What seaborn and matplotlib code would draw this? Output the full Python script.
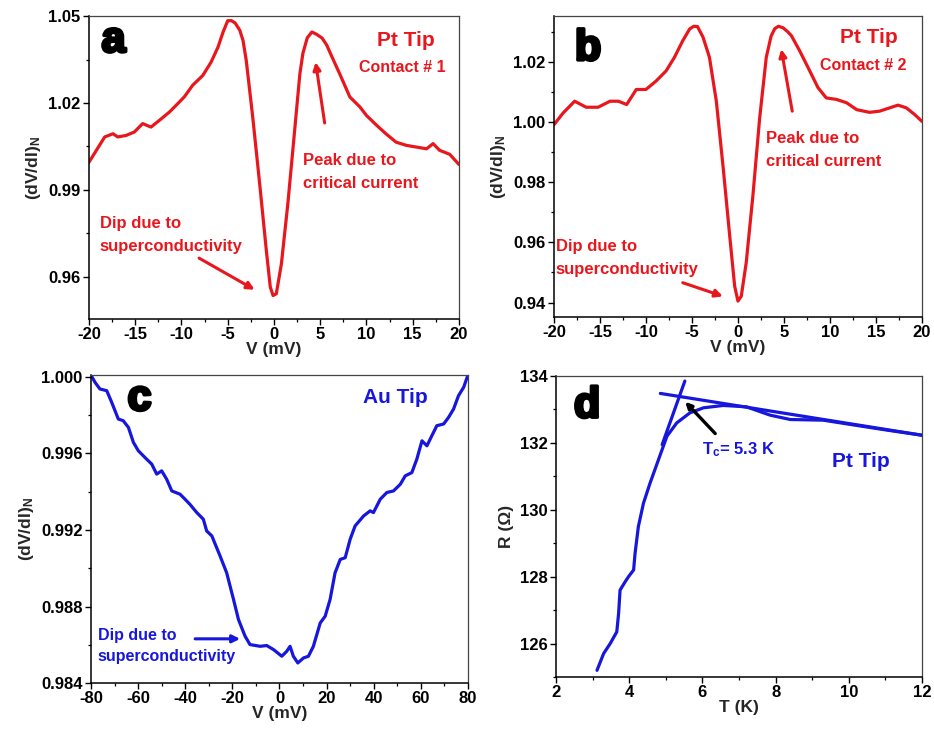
import numpy as np
import pandas as pd
import matplotlib
matplotlib.use("Agg")
import matplotlib.pyplot as plt
import matplotlib.patheffects as pe
from matplotlib.ticker import MultipleLocator, FormatStrFormatter
import seaborn as sns

# ---------------- data ----------------
# panel a : Pt tip, contact #1
a_v = [-20, -19.2, -18.3, -17.4, -16.9, -16.0, -15.1, -14.2, -13.3, -12.4, -11.3, -10.4, -9.7, -8.8,
       -7.7, -6.8, -6.05, -5.5, -5.0, -4.6, -4.2, -3.7, -3.35, -3.0, -2.3, -1.55, -0.83, -0.4, -0.1,
       0.25, 0.8, 1.5, 2.2, 2.8, 3.13, 3.6, 4.1, 4.6, 5.2, 5.7, 6.2, 7.1, 8.2, 9.3, 10.0, 11.1, 12.1,
       13.2, 14.3, 15.4, 16.5, 17.2, 17.9, 19.0, 20.0]
a_g = [0.9996, 1.0037, 1.0083, 1.0094, 1.0083, 1.0088, 1.0100, 1.0129, 1.0117, 1.0140, 1.0169, 1.0198,
       1.0221, 1.0261, 1.0295, 1.0341, 1.0393, 1.0445, 1.0484, 1.0484, 1.0476, 1.0451, 1.0416, 1.0347,
       1.0152, 0.9922, 0.9692, 0.9565, 0.9536, 0.9542, 0.9645, 0.9853, 1.0094, 1.0301, 1.0372, 1.0425,
       1.0445, 1.0437, 1.0424, 1.0400, 1.0364, 1.0301, 1.0221, 1.0186, 1.0157, 1.0123, 1.0094, 1.0065,
       1.0054, 1.0048, 1.0042, 1.0060, 1.0037, 1.0023, 0.9988]

# panel b : Pt tip, contact #2
b_v = [-20, -19.0, -17.75, -16.5, -15.2, -13.9, -13.0, -12.1, -11.05, -10.0, -8.9, -7.8, -6.9, -6.0,
       -5.25, -4.8, -4.4, -3.8, -3.1, -2.35, -1.6, -0.9, -0.36, 0.0, 0.36, 0.9, 1.63, 2.36, 3.08, 3.6,
       4.0, 4.4, 4.9, 5.4, 5.8, 6.7, 7.8, 8.7, 9.6, 10.7, 11.8, 12.9, 14.3, 15.4, 16.5, 17.4, 18.3,
       19.2, 20.0]
b_g = [0.9991, 1.0030, 1.0069, 1.0049, 1.0049, 1.0069, 1.0069, 1.0058, 1.0108, 1.0108, 1.0136, 1.0170,
       1.0215, 1.0270, 1.0309, 1.0318, 1.0317, 1.0282, 1.0215, 1.0069, 0.9846, 0.9623, 0.9455, 0.9405,
       0.9421, 0.9533, 0.9757, 1.0013, 1.0215, 1.0285, 1.0310, 1.0318, 1.0313, 1.0300, 1.0287, 1.0237,
       1.0170, 1.0114, 1.0080, 1.0075, 1.0064, 1.0041, 1.0032, 1.0036, 1.0047, 1.0056, 1.0047, 1.0025,
       1.0002]

# panel c : Au tip
c_v = [-80, -78.3, -76.2, -73.3, -71.2, -68.4, -66.3, -64.1, -62.0, -59.9, -57.1, -54.2, -52.1, -50.0,
       -47.9, -45.7, -42.2, -40.1, -38.0, -35.1, -32.3, -30.9, -28.7, -25.2, -22.4, -19.5, -17.4, -14.6,
       -12.5, -8.2, -5.4, -2.55, 1.0, 3.1, 4.5, 5.9, 7.8, 10.2, 12.3, 14.4, 17.3, 19.4, 21.5, 23.6, 25.8,
       27.9, 30.0, 32.1, 35.7, 38.5, 39.9, 42.8, 45.6, 48.4, 51.3, 53.4, 56.2, 58.3, 60.5, 62.6, 64.7,
       66.8, 69.7, 71.8, 73.9, 76.0, 78.2, 80.0]
c_g = [1.00010, 0.99972, 0.99937, 0.99928, 0.99867, 0.99780, 0.99771, 0.99736, 0.99658, 0.99614,
       0.99579, 0.99544, 0.99492, 0.99509, 0.99466, 0.99404, 0.99387, 0.99361, 0.99334, 0.99291,
       0.99256, 0.99195, 0.99169, 0.99064, 0.98976, 0.98837, 0.98732, 0.98645, 0.98601, 0.98592,
       0.98596, 0.98575, 0.98540, 0.98566, 0.98592, 0.98540, 0.98505, 0.98531, 0.98540, 0.98592,
       0.98714, 0.98749, 0.98837, 0.98976, 0.99046, 0.99055, 0.99151, 0.99221, 0.99273, 0.99300,
       0.99291, 0.99361, 0.99396, 0.99404, 0.99439, 0.99483, 0.99500, 0.99570, 0.99666, 0.99640,
       0.99693, 0.99745, 0.99754, 0.99789, 0.99832, 0.99902, 0.99946, 1.00010]

# panel d : R(T), Pt tip
d_t = [3.12, 3.3, 3.48, 3.66, 3.71, 3.75, 3.89, 3.98, 4.12, 4.16, 4.25, 4.39, 4.57, 4.8, 5.03, 5.3,
       5.66, 6.03, 6.57, 7.2, 7.85, 8.4, 9.3, 10.0, 11.0, 12.0]
d_r = [125.2, 125.7, 126.0, 126.35, 126.9, 127.6, 127.85, 128.0, 128.2, 128.7, 129.5, 130.2, 130.8,
       131.5, 132.2, 132.6, 132.9, 133.05, 133.12, 133.08, 132.83, 132.7, 132.68, 132.56, 132.39, 132.23]
# tangent lines used to define Tc
tan_hi_t = [4.85, 12.0]
tan_hi_r = [133.48, 132.23]
tan_lo_t = [4.9, 5.52]
tan_lo_r = [131.95, 133.85]

RED = "#e8171d"
BLUE = "#1616dc"

# ---------------- style ----------------
sns.set_theme(style="ticks")
plt.rcParams["font.family"] = ["Liberation Sans", "DejaVu Sans"]
plt.rcParams.update({
    "font.weight": "bold",
    "axes.labelweight": "bold",
    "axes.unicode_minus": False,
    "mathtext.fontset": "custom",
    "mathtext.rm": "Liberation Sans:bold",
    "mathtext.it": "Liberation Sans:bold",
    "mathtext.bf": "Liberation Sans:bold",
    "mathtext.default": "bf",
    "xtick.direction": "out",
    "ytick.direction": "out",
    "xtick.major.size": 4, "ytick.major.size": 4,
    "xtick.minor.size": 2.5, "ytick.minor.size": 2.5,
    "xtick.major.width": 1.0, "ytick.major.width": 1.0,
    "xtick.minor.width": 0.9, "ytick.minor.width": 0.9,
    "xtick.color": "black", "ytick.color": "black",
    "axes.edgecolor": "black",
})

fig = plt.figure(figsize=(9.34, 7.32), dpi=100)
fig.patch.set_facecolor("white")
ax_a = fig.add_axes([0.0953, 0.5642, 0.3961, 0.4139])
ax_b = fig.add_axes([0.5931, 0.5669, 0.3940, 0.4112])
ax_c = fig.add_axes([0.0974, 0.0669, 0.4036, 0.4208])
ax_d = fig.add_axes([0.5953, 0.0751, 0.3919, 0.4112])

LW = 2.3
line_kw = dict(lw=LW, sort=False, estimator=None)
sns.lineplot(data=pd.DataFrame({"V": a_v, "G": a_g}), x="V", y="G", ax=ax_a, color=RED, **line_kw)
sns.lineplot(data=pd.DataFrame({"V": b_v, "G": b_g}), x="V", y="G", ax=ax_b, color=RED, **line_kw)
sns.lineplot(data=pd.DataFrame({"V": c_v, "G": c_g}), x="V", y="G", ax=ax_c, color=BLUE, **line_kw)
sns.lineplot(data=pd.DataFrame({"T": d_t, "R": d_r}), x="T", y="R", ax=ax_d, color=BLUE, **line_kw)
sns.lineplot(x=tan_hi_t, y=tan_hi_r, ax=ax_d, color=BLUE, **line_kw)
sns.lineplot(x=tan_lo_t, y=tan_lo_r, ax=ax_d, color=BLUE, **line_kw)

TICK_FS = 12
LABEL_FS = 12.5


def style_axes(ax, xlim, ylim, xmaj, xmin, ymaj, ymin, yfmt, xlabel, ylabel):
    ax.set_xlim(*xlim)
    ax.set_ylim(*ylim)
    ax.xaxis.set_major_locator(MultipleLocator(xmaj))
    ax.xaxis.set_minor_locator(MultipleLocator(xmin))
    ax.yaxis.set_major_locator(MultipleLocator(ymaj))
    ax.yaxis.set_minor_locator(MultipleLocator(ymin))
    ax.yaxis.set_major_formatter(FormatStrFormatter(yfmt))
    ax.tick_params(labelsize=TICK_FS, pad=2)
    for lab in ax.get_xticklabels() + ax.get_yticklabels():
        lab.set_fontweight("bold")
    ax.set_xlabel(xlabel, fontsize=LABEL_FS, fontweight="bold", labelpad=0)
    ax.set_ylabel(ylabel, fontsize=LABEL_FS, fontweight="bold", labelpad=4)
    for s in ("left", "bottom"):
        ax.spines[s].set_linewidth(1.1)
        ax.spines[s].set_color("black")
    for s in ("top", "right"):
        ax.spines[s].set_visible(True)
        ax.spines[s].set_linewidth(0.9)
        ax.spines[s].set_color("#444444")
    ax.set_facecolor("white")


ylab = "(dV/dI)$_{N}$"
style_axes(ax_a, (-20, 20), (0.9455, 1.05), 5, 2.5, 0.03, 0.015, "%.2f", "V (mV)", ylab)
style_axes(ax_b, (-20, 20), (0.9352, 1.0352), 5, 2.5, 0.02, 0.01, "%.2f", "V (mV)", ylab)
style_axes(ax_c, (-80, 80), (0.984, 1.0001), 20, 10, 0.004, 0.002, "%.3f", "V (mV)", ylab)
style_axes(ax_d, (2, 12), (125, 134), 2, 1, 2, 1, "%d", "T (K)", "R (\u03a9)")

# panel letters
letter_fx = [pe.Stroke(linewidth=2.4, foreground="black", joinstyle="round"), pe.Normal()]
for ax, txt, fx, fy in [(ax_a, "a", 0.034, 0.882), (ax_b, "b", 0.057, 0.854),
                        (ax_c, "c", 0.097, 0.886), (ax_d, "d", 0.049, 0.863)]:
    ax.text(fx, fy, txt, transform=ax.transAxes, fontsize=31, fontweight="bold",
            color="black", va="baseline", ha="left", path_effects=letter_fx)

# annotations panel a
ax_a.text(11.17, 1.0416, "Pt Tip", color=RED, fontsize=15, fontweight="bold", va="center")
ax_a.text(9.19, 1.0321, "Contact # 1", color=RED, fontsize=11.5, fontweight="bold", va="center")
ax_a.text(3.14, 1.0000, "Peak due to", color=RED, fontsize=12, fontweight="bold", va="center")
ax_a.text(3.14, 0.9924, "critical current", color=RED, fontsize=12, fontweight="bold", va="center")
ax_a.text(-18.85, 0.9783, "Dip due to", color=RED, fontsize=12, fontweight="bold", va="center")
ax_a.text(-18.85, 0.9706, "superconductivity", color=RED, fontsize=12, fontweight="bold", va="center")
arrow_kw = dict(arrowstyle="-|>", lw=2.2, mutation_scale=11, shrinkA=0, shrinkB=0)
ax_a.annotate("", xy=(4.5, 1.0341), xytext=(5.48, 1.0131), arrowprops=dict(color=RED, **arrow_kw))
ax_a.annotate("", xy=(-2.09, 0.9556), xytext=(-8.1, 0.9665), arrowprops=dict(color=RED, **arrow_kw))

# annotations panel b
ax_b.text(11.05, 1.0282, "Pt Tip", color=RED, fontsize=15, fontweight="bold", va="center")
ax_b.text(8.95, 1.0187, "Contact # 2", color=RED, fontsize=11.5, fontweight="bold", va="center")
ax_b.text(3.0, 0.9946, "Peak due to", color=RED, fontsize=12, fontweight="bold", va="center")
ax_b.text(3.0, 0.9870, "critical current", color=RED, fontsize=12, fontweight="bold", va="center")
ax_b.text(-19.8, 0.9586, "Dip due to", color=RED, fontsize=12, fontweight="bold", va="center")
ax_b.text(-19.8, 0.9511, "superconductivity", color=RED, fontsize=12, fontweight="bold", va="center")
ax_b.annotate("", xy=(4.71, 1.0242), xytext=(5.9, 1.0036), arrowprops=dict(color=RED, **arrow_kw))
ax_b.annotate("", xy=(-1.63, 0.9421), xytext=(-6.0, 0.9466), arrowprops=dict(color=RED, **arrow_kw))

# annotations panel c
ax_c.text(35.4, 0.99893, "Au Tip", color=BLUE, fontsize=15, fontweight="bold", va="center")
ax_c.text(-77.2, 0.98648, "Dip due to", color=BLUE, fontsize=11.5, fontweight="bold", va="center")
ax_c.text(-77.2, 0.98540, "superconductivity", color=BLUE, fontsize=11.5, fontweight="bold", va="center")
ax_c.annotate("", xy=(-16.7, 0.98631), xytext=(-35.8, 0.98631), arrowprops=dict(color=BLUE, **arrow_kw))

# annotations panel d
ax_d.text(5.98, 131.79, "T$_c$= 5.3 K", color=BLUE, fontsize=12, fontweight="bold", va="center")
ax_d.text(9.53, 131.44, "Pt Tip", color=BLUE, fontsize=15, fontweight="bold", va="center")
ax_d.annotate("", xy=(5.53, 133.23), xytext=(6.35, 132.28),
              arrowprops=dict(color="black", arrowstyle="-|>", lw=2.4, mutation_scale=9,
                              shrinkA=0, shrinkB=0))

fig.savefig("out.png", dpi=100, facecolor="white")
